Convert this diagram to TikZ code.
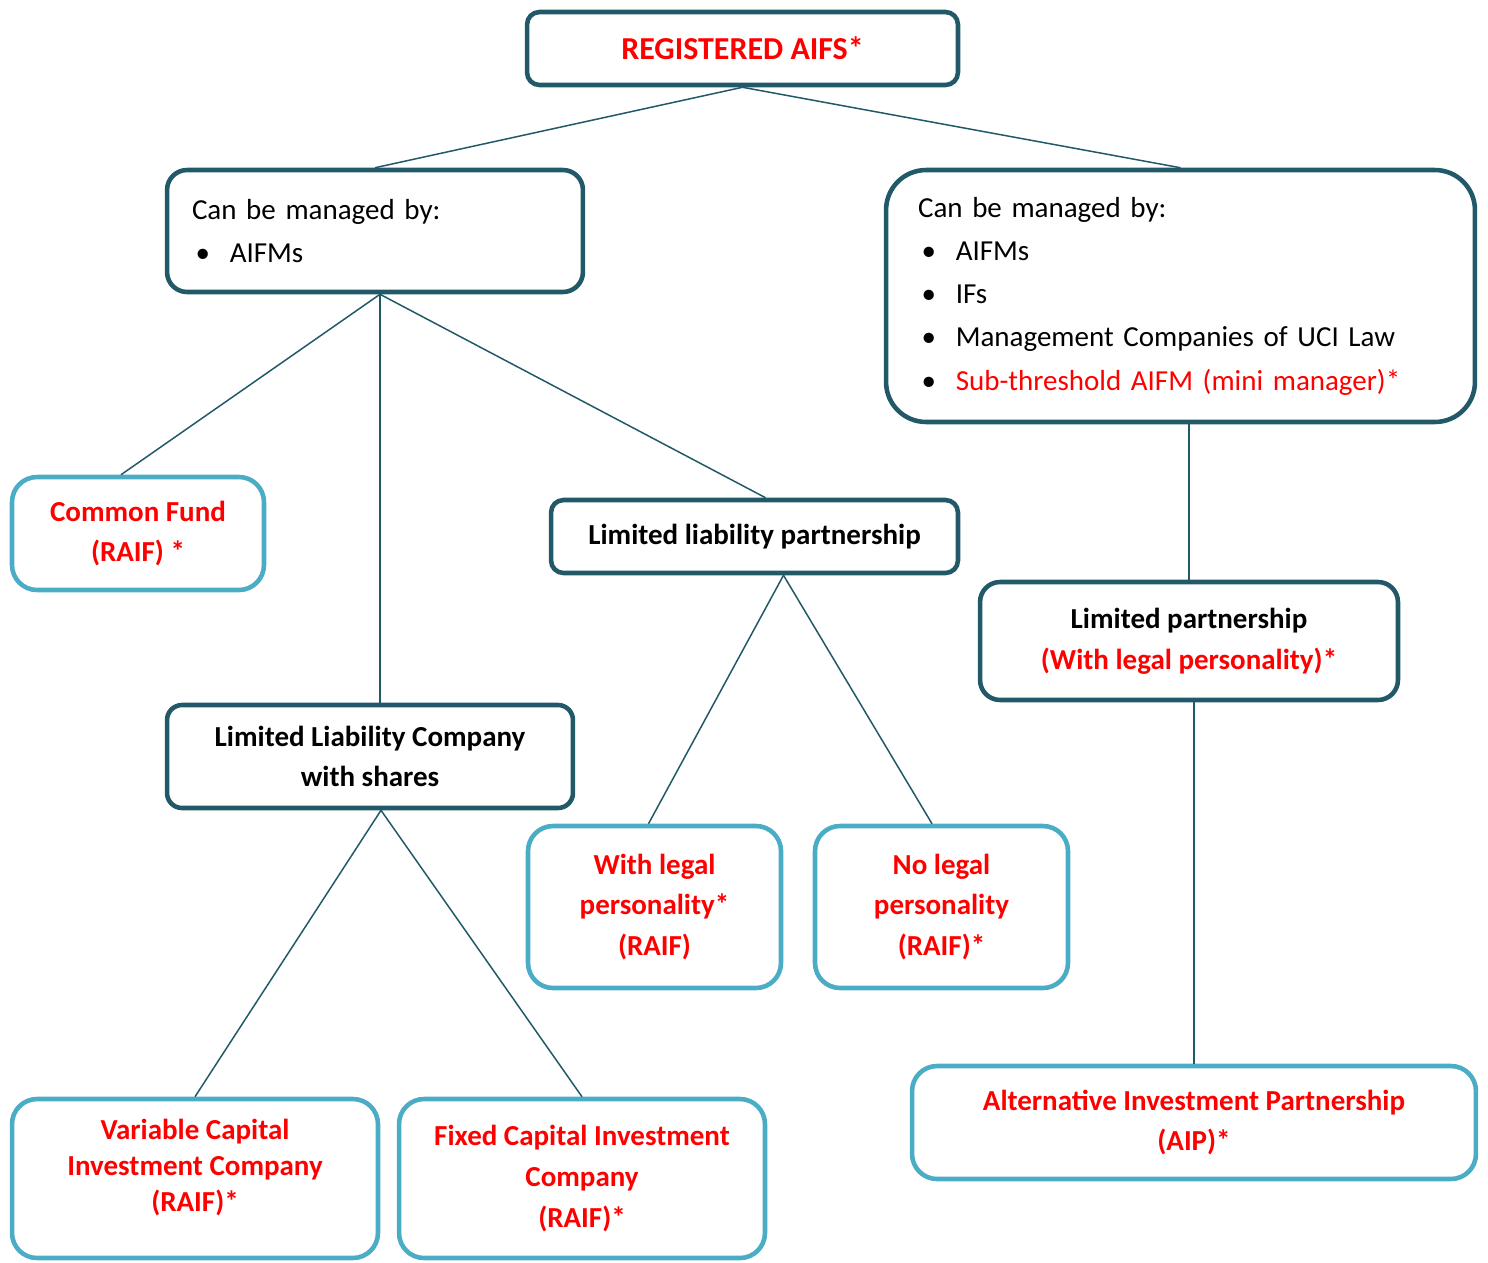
\documentclass[tikz,border=0pt]{standalone}
\usepackage{fontspec}
\setmainfont{Carlito}
\definecolor{dteal}{HTML}{215968}
\definecolor{lblue}{HTML}{4BACC6}
\definecolor{fred}{HTML}{FF0000}
\newcommand{\lbul}{\makebox[21.5pt][l]{\hspace{2pt}\textbullet}}
\begin{document}
\begin{tikzpicture}[x=0.02cm, y=-0.02cm,
            every node/.style={font=\fontsize{16.5}{23.2}\selectfont, align=center, inner sep=0pt},
            d/.style={draw=dteal, line width=2.6pt, rounded corners=0.25cm, font=\fontsize{16.5}{23.2}\selectfont\bfseries},
            l/.style={draw=lblue, line width=2.6pt, rounded corners=0.5cm, text=fred, font=\fontsize{16.5}{23.2}\selectfont\bfseries},
            m/.style={draw=dteal, line width=2.6pt, align=left, font=\fontsize{16.5}{24.6}\selectfont},
            c/.style={draw=dteal, line width=0.85pt}]
            \useasboundingbox (0,0) rectangle (1488,1262);

            \node[d, text=fred, minimum width=8.62cm, minimum height=1.46cm, font=\fontsize{18.2}{23.2}\selectfont\bfseries] (reg) at (742.5,48.5)
                {REGISTERED AIFS*};

            \node[m, rounded corners=0.4cm, minimum width=8.32cm, minimum height=2.44cm, text width=7.32cm] (mgrA) at (375,231)
                {Can be managed by:\\ \lbul AIFMs\\[-0.25cm]};
            \node[m, rounded corners=0.8cm, minimum width=11.78cm, minimum height=5.04cm, text width=10.5cm] (mgrB) at (1180.5,296)
                {Can be managed by:\\ \lbul AIFMs\\ \lbul IFs\\ \lbul Management Companies of UCI Law\\
                 \lbul\textcolor{fred}{Sub-threshold AIFM (mini manager)*}};

            \node[l, minimum width=5.04cm, minimum height=2.26cm] (cf) at (138,533.5) {Common Fund\\(RAIF) *};
            \node[d, minimum width=8.14cm, minimum height=1.46cm] (llp) at (754.5,536.5) {Limited liability partnership};
            \node[d, rounded corners=0.3cm, minimum width=8.12cm, minimum height=2.06cm] (llc) at (370,756.5)
                {Limited Liability Company\\with shares};
            \node[d, rounded corners=0.4cm, minimum width=8.36cm, minimum height=2.36cm] (lp) at (1189,641)
                {Limited partnership\\\textcolor{fred}{(With legal personality)*}};

            \node[l, minimum width=5.06cm, minimum height=3.24cm] (wlp) at (654.5,907) {With legal\\personality*\\(RAIF)};
            \node[l, minimum width=5.06cm, minimum height=3.24cm] (nlp) at (941.5,907) {No legal\\personality\\(RAIF)*};

            \node[l, minimum width=7.32cm, minimum height=3.18cm, font=\fontsize{16.5}{20.4}\selectfont\bfseries] (vcic) at (195,1178.5)
                {Variable Capital\\Investment Company\\(RAIF)*\\[-0.2cm]};
            \node[l, minimum width=7.32cm, minimum height=3.18cm] (fcic) at (582,1178.5)
                {Fixed Capital Investment\\Company\\(RAIF)*};
            \node[l, minimum width=11.28cm, minimum height=2.26cm] (aip) at (1194,1122.5)
                {Alternative Investment Partnership\\(AIP)*};

            \draw[c] (reg.south) to (mgrA.north);
            \draw[c] (reg.south) to (mgrB.north);

            \draw[c] ([xshift=0.1cm]mgrA.south) to ([xshift=-0.34cm]cf.north);
            \draw[c] ([xshift=0.1cm]mgrA.south) to ([xshift=0.22cm]llp.north);
            \draw[c] ([xshift=0.1cm]mgrA.south) to ([xshift=0.1cm]mgrA.south |- llc.north);

            \draw[c] ([xshift=0.58cm]llp.south) to ([xshift=-0.12cm]wlp.north);
            \draw[c] ([xshift=0.58cm]llp.south) to ([xshift=-0.19cm]nlp.north);

            \draw[c] ([xshift=0.22cm]llc.south) to (vcic.north);
            \draw[c] ([xshift=0.22cm]llc.south) to (fcic.north);

            \draw[c] (lp.north |- mgrB.south) to (lp.north);
            \draw[c] (aip.north |- lp.south) to (aip.north);
        \end{tikzpicture}
\end{document}
